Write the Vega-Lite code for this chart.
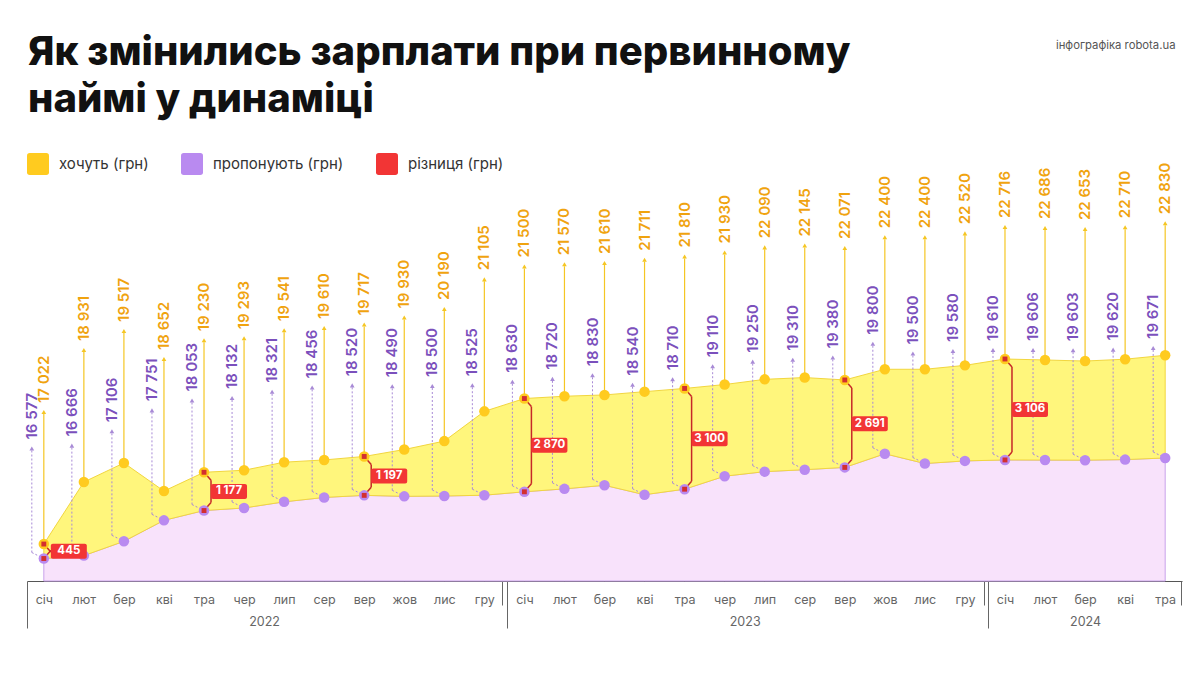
{
  "$schema": "https://vega.github.io/schema/vega-lite/v6.json",
  "width": 1155,
  "height": 431,
  "autosize": {"type": "none"},
  "padding": {"left": 27, "top": 150, "right": 8, "bottom": 92},
  "background": "white",
  "config": {
    "view": {"stroke": null},
    "font": "Inter",
    "axis": {"labelFont": "Inter", "titleFont": "Inter"},
    "locale": {"number": {"decimal": ",", "thousands": " ", "grouping": [3], "currency": ["", ""]}}
  },
  "title": {
    "text": ["Як змінились зарплати при первинному", "наймі у динаміці"],
    "anchor": "start",
    "frame": "group",
    "orient": "top",
    "font": "Inter",
    "fontSize": 40,
    "fontWeight": 800,
    "color": "#111111",
    "lineHeight": 47,
    "offset": -81,
    "dx": 1
  },
  "data": {
    "values": [
      {"idx": 0, "month": "січ", "year": 2022, "want": 17022, "offered": 16577, "diff": 445},
      {"idx": 1, "month": "лют", "year": 2022, "want": 18931, "offered": 16666},
      {"idx": 2, "month": "бер", "year": 2022, "want": 19517, "offered": 17106},
      {"idx": 3, "month": "кві", "year": 2022, "want": 18652, "offered": 17751},
      {"idx": 4, "month": "тра", "year": 2022, "want": 19230, "offered": 18053, "diff": 1177},
      {"idx": 5, "month": "чер", "year": 2022, "want": 19293, "offered": 18132},
      {"idx": 6, "month": "лип", "year": 2022, "want": 19541, "offered": 18321},
      {"idx": 7, "month": "сер", "year": 2022, "want": 19610, "offered": 18456},
      {"idx": 8, "month": "вер", "year": 2022, "want": 19717, "offered": 18520, "diff": 1197},
      {"idx": 9, "month": "жов", "year": 2022, "want": 19930, "offered": 18490},
      {"idx": 10, "month": "лис", "year": 2022, "want": 20190, "offered": 18500},
      {"idx": 11, "month": "гру", "year": 2022, "want": 21105, "offered": 18525},
      {"idx": 12, "month": "січ", "year": 2023, "want": 21500, "offered": 18630, "diff": 2870},
      {"idx": 13, "month": "лют", "year": 2023, "want": 21570, "offered": 18720},
      {"idx": 14, "month": "бер", "year": 2023, "want": 21610, "offered": 18830},
      {"idx": 15, "month": "кві", "year": 2023, "want": 21711, "offered": 18540},
      {"idx": 16, "month": "тра", "year": 2023, "want": 21810, "offered": 18710, "diff": 3100},
      {"idx": 17, "month": "чер", "year": 2023, "want": 21930, "offered": 19110},
      {"idx": 18, "month": "лип", "year": 2023, "want": 22090, "offered": 19250},
      {"idx": 19, "month": "сер", "year": 2023, "want": 22145, "offered": 19310},
      {"idx": 20, "month": "вер", "year": 2023, "want": 22071, "offered": 19380, "diff": 2691},
      {"idx": 21, "month": "жов", "year": 2023, "want": 22400, "offered": 19800},
      {"idx": 22, "month": "лис", "year": 2023, "want": 22400, "offered": 19500},
      {"idx": 23, "month": "гру", "year": 2023, "want": 22520, "offered": 19580},
      {"idx": 24, "month": "січ", "year": 2024, "want": 22716, "offered": 19610, "diff": 3106},
      {"idx": 25, "month": "лют", "year": 2024, "want": 22686, "offered": 19606},
      {"idx": 26, "month": "бер", "year": 2024, "want": 22653, "offered": 19603},
      {"idx": 27, "month": "кві", "year": 2024, "want": 22710, "offered": 19620},
      {"idx": 28, "month": "тра", "year": 2024, "want": 22830, "offered": 19671}
    ]
  },
  "resolve": {"axis": {"x": "independent", "y": "independent"}},
  "layer": [
    {
      "mark": {"type": "area", "fill": "#F8E2FB", "stroke": "#C9A2EB", "strokeWidth": 1},
      "encoding": {
        "x": {
          "field": "idx", "type": "quantitative",
          "scale": {"domain": [-0.42, 28.42], "nice": false, "zero": false},
          "axis": {
            "orient": "bottom", "title": null,
            "values": [0,1,2,3,4,5,6,7,8,9,10,11,12,13,14,15,16,17,18,19,20,21,22,23,24,25,26,27,28],
            "labelExpr": "['січ','лют','бер','кві','тра','чер','лип','сер','вер','жов','лис','гру'][datum.value % 12]",
            "ticks": false, "tickSize": 0, "domain": true, "domainColor": "#555555", "domainWidth": 1,
            "grid": false, "labelPadding": 12, "labelFontSize": 12.5, "labelColor": "#666666",
            "labelFlush": false, "labelOverlap": false
          }
        },
        "y": {
          "field": "offered", "type": "quantitative",
          "scale": {"domain": [15885, 29147], "nice": false, "zero": false},
          "axis": {
            "title": "інфографіка robota.ua", "titleAngle": 0, "titleX": 1148, "titleY": -105,
            "titleAlign": "right", "titleBaseline": "middle", "titleFontSize": 11.3,
            "titleFontWeight": "normal", "titleColor": "#555555",
            "labels": false, "ticks": false, "domain": false, "grid": false
          }
        },
        "y2": {"datum": 15885}
      }
    },
    {
      "mark": {"type": "area", "fill": "#FFF67C", "stroke": "#F2D63F", "strokeWidth": 1},
      "encoding": {
        "x": {
          "field": "idx", "type": "quantitative",
          "axis": {
            "orient": "bottom", "title": null, "values": [5.5, 17.5, 26],
            "labelExpr": "datum.value < 12 ? '2022' : datum.value < 24 ? '2023' : '2024'",
            "ticks": false, "tickSize": 0, "domain": false, "grid": false,
            "labelPadding": 34, "labelFontSize": 12.5, "labelColor": "#666666", "labelFlush": false
          }
        },
        "y": {"field": "want", "type": "quantitative", "axis": null},
        "y2": {"field": "offered"}
      }
    },
    {
      "mark": {"type": "rule", "color": "#A88AD6", "strokeDash": [2, 2], "strokeWidth": 1, "xOffset": -12, "yOffset": -6, "y2Offset": -108},
      "encoding": {
        "x": {
          "field": "idx", "type": "quantitative",
          "axis": {
            "orient": "bottom", "title": null, "values": [-0.42, 11.555, 23.58],
            "labels": false, "domain": false, "grid": false,
            "ticks": true, "tickSize": 47, "tickColor": "#666666", "tickWidth": 1
          }
        },
        "y": {"field": "offered", "type": "quantitative", "axis": null},
        "y2": {"field": "offered"}
      }
    },
    {
      "mark": {"type": "rule", "color": "#A88AD6", "strokeDash": [2, 2], "strokeWidth": 1, "xOffset": -12, "yOffset": -6, "x2Offset": 0, "y2Offset": 0},
      "encoding": {
        "x": {
          "field": "idx", "type": "quantitative",
          "axis": {
            "orient": "bottom", "title": null, "values": [11.43, 23.47, 28.4],
            "labels": false, "domain": false, "grid": false,
            "ticks": true, "tickSize": 24, "tickColor": "#666666", "tickWidth": 1
          }
        },
        "x2": {"field": "idx"},
        "y": {"field": "offered", "type": "quantitative", "axis": null},
        "y2": {"field": "offered"}
      }
    },
    {
      "mark": {"type": "rule", "color": "#F5C623", "strokeWidth": 1.2, "y2Offset": -130},
      "encoding": {
        "x": {"field": "idx", "type": "quantitative", "axis": null},
        "y": {"field": "want", "type": "quantitative", "axis": null},
        "y2": {"field": "want"}
      }
    },
    {
      "mark": {"type": "point", "shape": "triangle-up", "filled": true, "opacity": 1, "size": 22, "color": "#F5C623", "yOffset": -132},
      "encoding": {
        "x": {"field": "idx", "type": "quantitative", "axis": null},
        "y": {"field": "want", "type": "quantitative", "axis": null}
      }
    },
    {
      "mark": {"type": "point", "shape": "triangle-up", "filled": true, "opacity": 1, "size": 22, "color": "#A88AD6", "xOffset": -12, "yOffset": -110},
      "encoding": {
        "x": {"field": "idx", "type": "quantitative", "axis": null},
        "y": {"field": "offered", "type": "quantitative", "axis": null}
      }
    },
    {
      "transform": [{"filter": "isValid(datum.diff)"}],
      "layer": [
        {
          "mark": {"type": "rule", "color": "#C62828", "strokeWidth": 1.5, "x2Offset": 7, "y2Offset": 8},
          "encoding": {
            "x": {"field": "idx", "type": "quantitative", "axis": null},
            "x2": {"field": "idx"},
            "y": {"field": "want", "type": "quantitative", "axis": null},
            "y2": {"field": "want"}
          }
        },
        {
          "mark": {"type": "rule", "color": "#C62828", "strokeWidth": 1.5, "xOffset": 7, "yOffset": 8, "y2Offset": -8},
          "encoding": {
            "x": {"field": "idx", "type": "quantitative", "axis": null},
            "y": {"field": "want", "type": "quantitative", "axis": null},
            "y2": {"field": "offered"}
          }
        },
        {
          "mark": {"type": "rule", "color": "#C62828", "strokeWidth": 1.5, "xOffset": 7, "yOffset": -8},
          "encoding": {
            "x": {"field": "idx", "type": "quantitative", "axis": null},
            "x2": {"field": "idx"},
            "y": {"field": "offered", "type": "quantitative", "axis": null},
            "y2": {"field": "offered"}
          }
        }
      ]
    },
    {
      "transform": [{"fold": ["want", "offered"], "as": ["series", "value"]}],
      "mark": {"type": "point", "filled": true, "opacity": 1, "size": 110},
      "encoding": {
        "x": {"field": "idx", "type": "quantitative", "axis": null},
        "y": {"field": "value", "type": "quantitative", "axis": null},
        "color": {
          "field": "series", "type": "nominal",
          "scale": {"domain": ["want", "offered", "diff"], "range": ["#FFCB1F", "#B98AF0", "#F23535"]},
          "legend": {
            "orient": "none", "legendX": 0, "legendY": 3, "direction": "horizontal", "title": null,
            "symbolType": "M -0.75 -1 L 0.75 -1 Q 1 -1 1 -0.75 L 1 0.75 Q 1 1 0.75 1 L -0.75 1 Q -1 1 -1 0.75 L -1 -0.75 Q -1 -1 -0.75 -1 Z",
            "symbolSize": 484, "symbolStrokeWidth": 0, "symbolOpacity": 1,
            "labelFontSize": 15, "labelFont": "Inter", "labelColor": "#333333", "labelOffset": 10,
            "columnPadding": 32,
            "labelExpr": "datum.value == 'want' ? 'хочуть (грн)' : datum.value == 'offered' ? 'пропонують (грн)' : 'різниця (грн)'"
          }
        }
      }
    },
    {
      "transform": [{"filter": "isValid(datum.diff)"}, {"fold": ["want", "offered"], "as": ["series", "value"]}],
      "mark": {"type": "point", "shape": "square", "filled": true, "opacity": 1, "size": 24, "color": "#D32F2F"},
      "encoding": {
        "x": {"field": "idx", "type": "quantitative", "axis": null},
        "y": {"field": "value", "type": "quantitative", "axis": null}
      }
    },
    {
      "mark": {"type": "text", "angle": 270, "align": "left", "baseline": "middle", "yOffset": -141, "fontSize": 15, "fontWeight": 600, "color": "#F0A30F"},
      "encoding": {
        "x": {"field": "idx", "type": "quantitative", "axis": null},
        "y": {"field": "want", "type": "quantitative", "axis": null},
        "text": {"field": "want", "type": "quantitative", "format": ",d"}
      }
    },
    {
      "mark": {"type": "text", "angle": 270, "align": "left", "baseline": "middle", "xOffset": -12, "yOffset": -119, "fontSize": 15, "fontWeight": 600, "color": "#7B50BC"},
      "encoding": {
        "x": {"field": "idx", "type": "quantitative", "axis": null},
        "y": {"field": "offered", "type": "quantitative", "axis": null},
        "text": {"field": "offered", "type": "quantitative", "format": ",d"}
      }
    },
    {
      "transform": [
        {"filter": "isValid(datum.diff)"},
        {"fold": ["want", "offered"], "as": ["series", "value"]},
        {"aggregate": [{"op": "mean", "field": "value", "as": "mid"}], "groupby": ["idx", "diff"]}
      ],
      "layer": [
        {
          "mark": {"type": "rect", "fill": "#F23535", "cornerRadius": 2, "xOffset": 7, "x2Offset": 43, "yOffset": -7.5, "y2Offset": 7.5},
          "encoding": {
            "x": {"field": "idx", "type": "quantitative", "axis": null},
            "x2": {"field": "idx"},
            "y": {"field": "mid", "type": "quantitative", "axis": null},
            "y2": {"field": "mid"}
          }
        },
        {
          "mark": {"type": "text", "align": "center", "baseline": "middle", "xOffset": 25, "fontSize": 11.5, "fontWeight": 700, "color": "#FFFFFF"},
          "encoding": {
            "x": {"field": "idx", "type": "quantitative", "axis": null},
            "y": {"field": "mid", "type": "quantitative", "axis": null},
            "text": {"field": "diff", "type": "quantitative", "format": ",d"}
          }
        }
      ]
    }
  ]
}
